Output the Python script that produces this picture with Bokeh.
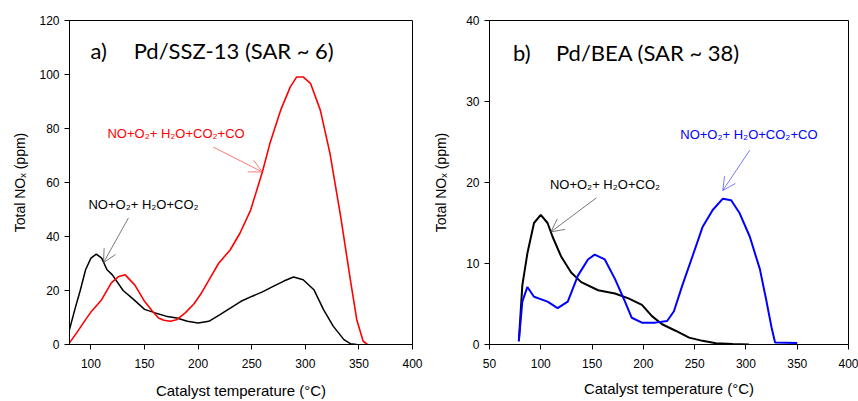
from bokeh.plotting import figure
from bokeh.layouts import row
from bokeh.models import Range1d, FixedTicker, Arrow, OpenHead, Label
from bokeh.embed import file_html
from bokeh.resources import INLINE

# ---------------- data ----------------
# Panel a) Pd/SSZ-13 (SAR ~ 6)
a_black_T = [80, 85, 90, 95, 100, 105, 110, 115, 120, 130, 140, 150, 160, 170, 180, 190, 200,
             210, 220, 230, 240, 250, 260, 270, 280, 289, 298, 308, 317, 326, 336, 342, 348]
a_black_V = [5.5, 13, 20, 27.7, 32, 33.5, 32, 27.7, 25.8, 20, 16.6, 13, 11.7, 10.5, 9.8, 8.6, 8,
             8.6, 11, 13.5, 16, 17.8, 19.5, 21.5, 23.5, 25, 24, 20.3, 12.9, 6.8, 1.8, 0.3, 0]
a_red_T = [80, 87, 95, 100, 110, 119, 126, 132, 141, 150, 157, 163, 168, 174, 180, 188, 196, 203,
           211, 219, 230, 239, 249, 260, 267, 277, 286, 292, 298, 305, 314, 323, 333, 342, 348, 354, 358]
a_red_V = [0.6, 4.5, 9.2, 12, 16.6, 22.8, 25.2, 25.8, 22, 16, 12.5, 9.8, 9, 8.6, 9.2, 11.7, 15, 19,
           24.5, 30, 35.1, 41.2, 49.8, 64, 74.5, 86.8, 95.4, 99.1, 99.1, 96.6, 86.8, 70.8, 47.4, 24, 9.2, 1.2, 0]

# Panel b) Pd/BEA (SAR ~ 38)
b_black_T = [78.6, 82, 87, 93.4, 100, 106.6, 111.5, 119.7, 129.6, 139.4, 155.9, 172.3, 185.5,
             198.6, 208.4, 218.3, 231.4, 244.6, 257.7, 270.8, 287, 303]
b_black_V = [0.4, 7.3, 11.3, 15, 16, 15, 13.3, 10.9, 8.9, 7.7, 6.7, 6.3, 5.7,
             4.9, 3.5, 2.5, 1.7, 0.85, 0.45, 0.15, 0.05, 0]
b_blue_T = [78.6, 82, 86.9, 93.4, 106.6, 116.4, 126.3, 136.2, 146, 152.5, 162.4, 172.3, 182.1,
            188.7, 198.6, 211.7, 223.2, 229.8, 238, 247.9, 257.7, 267.6, 277.5, 285.6, 293.9,
            303.8, 313.6, 320.1, 325, 328.4, 350]
b_blue_V = [0.4, 5.3, 7.1, 5.9, 5.3, 4.5, 5.3, 8.5, 10.5, 11.1, 10.5, 8.1, 5.3,
            3.3, 2.7, 2.7, 2.9, 4.1, 7.3, 10.9, 14.5, 16.6, 18, 17.8, 16.2,
            13.3, 9.3, 5.3, 2.1, 0.25, 0.2]

a_xticks = [100, 150, 200, 250, 300, 350, 400]
a_yticks = [0, 20, 40, 60, 80, 100, 120]
b_xticks = [50, 100, 150, 200, 250, 300, 350, 400]
b_yticks = [0, 10, 20, 30, 40]

label_co = "NO+O\u2082+ H\u2082O+CO\u2082+CO"
label_noco = "NO+O\u2082+ H\u2082O+CO\u2082"
x_title = "Catalyst temperature (\u00b0C)"
y_title = "Total NO\u2093 (ppm)"

FONT = "Liberation Sans"
TFONT = "Lato"


def make_fig(width, height, xr, yr, xticks, yticks, bl, br, bt, bb, ystand, xstand):
    p = figure(width=width, height=height, x_range=Range1d(*xr), y_range=Range1d(*yr),
               output_backend="svg", toolbar_location=None,
               min_border_left=bl, min_border_right=br, min_border_top=bt, min_border_bottom=bb)
    p.grid.visible = False
    p.outline_line_color = "black"
    p.outline_line_width = 1
    p.outline_line_alpha = 1
    p.background_fill_color = "white"
    p.border_fill_color = "white"
    p.xaxis.ticker = FixedTicker(ticks=xticks)
    p.yaxis.ticker = FixedTicker(ticks=yticks)
    for ax in (p.xaxis, p.yaxis):
        ax.axis_line_color = "black"
        ax.major_tick_line_color = "black"
        ax.major_tick_in = 0
        ax.major_tick_out = 5
        ax.minor_tick_line_color = None
        ax.major_label_text_font = FONT
        ax.major_label_text_font_size = "12px"
        ax.major_label_text_color = "black"
        ax.axis_label_text_font = FONT
        ax.axis_label_text_font_style = "normal"
        ax.axis_label_text_color = "black"
    p.xaxis.axis_label_text_font_size = "15px"
    p.yaxis.axis_label_text_font_size = "14px"
    p.xaxis.major_label_standoff = 9
    p.xaxis.axis_label_standoff = xstand
    p.yaxis.major_label_standoff = 5
    p.yaxis.axis_label_standoff = ystand
    p.xaxis.axis_label = x_title
    p.yaxis.axis_label = y_title
    return p


def add_label(p, x, y, text, color, size="13px", font=FONT):
    p.add_layout(Label(x=x, y=y, text=text, text_color=color, text_font=font,
                       text_font_size=size, text_baseline="middle", text_align="left"))


def add_arrow(p, x0, y0, x1, y1, color):
    p.add_layout(Arrow(end=OpenHead(size=13, line_color=color, line_width=0.7),
                       x_start=x0, y_start=y0, x_end=x1, y_end=y1,
                       line_color=color, line_width=0.7))


# ---------------- panel a ----------------
pa = make_fig(430, 401, (80, 400), (0, 120), a_xticks, a_yticks, 69, 18, 20, 56, 8, 11)
pa.line(a_black_T, a_black_V, line_color="black", line_width=1.5)
pa.line(a_red_T, a_red_V, line_color="#ff0000", line_width=1.6)
add_label(pa, 99.6, 108.9, "a)", "black", "22px", TFONT)
add_label(pa, 139.9, 108.9, "Pd/SSZ-13 (SAR ~ 6)", "black", "22px", TFONT)
add_label(pa, 115.4, 78.3, label_co, "#ff0000")
add_label(pa, 97.7, 52, label_noco, "black")
add_arrow(pa, 214.2, 73.1, 259.9, 63.9, "#ff4040")
add_arrow(pa, 135, 46.9, 111.7, 30.3, "#404040")

# ---------------- panel b ----------------
pb = make_fig(428, 401, (50, 400), (0, 40), b_xticks, b_yticks, 59, 10, 16, 54, 14, 9)
pb.line(b_black_T, b_black_V, line_color="black", line_width=2)
pb.line(b_blue_T, b_blue_V, line_color="#0000ff", line_width=2)
add_label(pb, 73, 36.1, "b)", "black", "22px", TFONT)
add_label(pb, 114.8, 36.1, "Pd/BEA (SAR ~ 38)", "black", "22px", TFONT)
add_label(pb, 236, 25.9, label_co, "#0000ff")
add_label(pb, 108.9, 19.8, label_noco, "black")
add_arrow(pb, 303.8, 24, 277.4, 19, "#4040ff")
add_arrow(pb, 154.2, 18.1, 109.8, 13.9, "#404040")

layout = row(pa, pb)
open("out.html", "w").write(file_html(layout, INLINE))
